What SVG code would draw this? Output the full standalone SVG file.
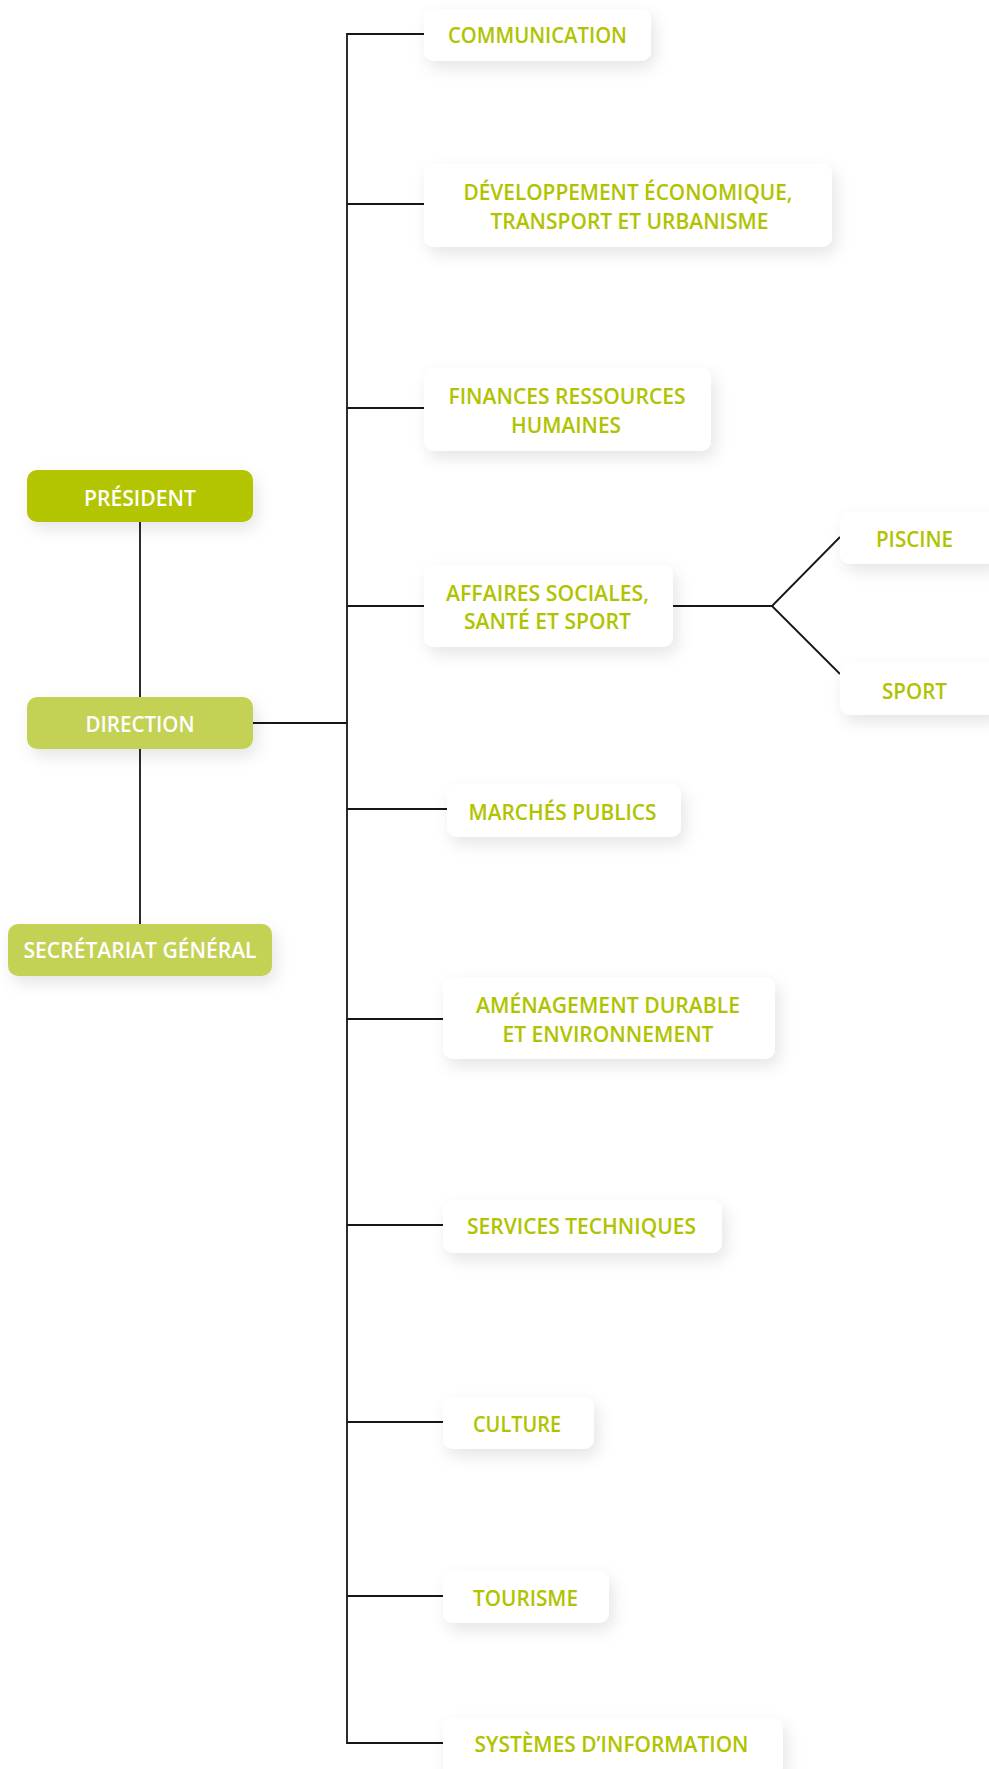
<svg xmlns="http://www.w3.org/2000/svg" width="989" height="1769" viewBox="0 0 989 1769">
<defs>
<filter id="sh" x="-20%" y="-40%" width="150%" height="200%">
<feDropShadow dx="4" dy="7" stdDeviation="8" flood-color="#000" flood-opacity="0.10"/>
</filter>
<style>
.box{fill:#ffffff;filter:url(#sh)}
.pres{fill:#b3c400;filter:url(#sh)}
.dir{fill:#c3d154;filter:url(#sh)}
.t{font-family:"Open Sans","Noto Sans","Liberation Sans",sans-serif;font-weight:600;font-size:22px;text-anchor:middle;fill:#b0c300}
.w{fill:#ffffff}
.ln{stroke:#161616;stroke-width:1.8;fill:none}
</style>
</defs>
<rect width="989" height="1769" fill="#ffffff"/>
<g id="connectors">
<line class="ln" x1="347" y1="33" x2="347" y2="1744"/>
<line class="ln" x1="347" y1="34" x2="424" y2="34"/>
<line class="ln" x1="347" y1="204" x2="424" y2="204"/>
<line class="ln" x1="347" y1="408" x2="424" y2="408"/>
<line class="ln" x1="347" y1="606" x2="424" y2="606"/>
<line class="ln" x1="347" y1="809" x2="447" y2="809"/>
<line class="ln" x1="347" y1="1019" x2="443" y2="1019"/>
<line class="ln" x1="347" y1="1225" x2="443" y2="1225"/>
<line class="ln" x1="347" y1="1422" x2="443" y2="1422"/>
<line class="ln" x1="347" y1="1596" x2="443" y2="1596"/>
<line class="ln" x1="347" y1="1743" x2="443" y2="1743"/>
<line class="ln" x1="253" y1="723" x2="347" y2="723"/>
<line class="ln" x1="140" y1="522" x2="140" y2="697"/>
<line class="ln" x1="140" y1="749" x2="140" y2="924"/>
<polyline class="ln" points="673,606 772,606 840,537"/>
<line class="ln" x1="772" y1="606" x2="840" y2="674"/>
</g>
<g id="president">
<rect class="pres" x="27" y="470" width="226" height="52" rx="10"/>
<text class="t w" x="140" y="506" textLength="112" lengthAdjust="spacingAndGlyphs">PRÉSIDENT</text>
</g>
<g id="direction">
<rect class="dir" x="27" y="697" width="226" height="52" rx="10"/>
<text class="t w" x="140" y="732" textLength="109" lengthAdjust="spacingAndGlyphs">DIRECTION</text>
</g>
<g id="secretariat">
<rect class="dir" x="8" y="924" width="264" height="52" rx="10"/>
<text class="t w" x="140" y="958" textLength="233" lengthAdjust="spacingAndGlyphs">SECRÉTARIAT GÉNÉRAL</text>
</g>
<g id="communication">
<rect class="box" x="424" y="9" width="227" height="52" rx="10"/>
<text class="t" x="537.5" y="43" textLength="179" lengthAdjust="spacingAndGlyphs">COMMUNICATION</text>
</g>
<g id="developpement">
<rect class="box" x="424" y="164" width="408" height="83" rx="10"/>
<text class="t" x="628" y="200" textLength="329" lengthAdjust="spacingAndGlyphs">DÉVELOPPEMENT ÉCONOMIQUE,</text>
<text class="t" x="629.5" y="229" textLength="278" lengthAdjust="spacingAndGlyphs">TRANSPORT ET URBANISME</text>
</g>
<g id="finances">
<rect class="box" x="424" y="368" width="287" height="83" rx="10"/>
<text class="t" x="567" y="404" textLength="237" lengthAdjust="spacingAndGlyphs">FINANCES RESSOURCES</text>
<text class="t" x="566" y="433" textLength="110" lengthAdjust="spacingAndGlyphs">HUMAINES</text>
</g>
<g id="affaires">
<rect class="box" x="424" y="565" width="249" height="82" rx="10"/>
<text class="t" x="547.5" y="601" textLength="203" lengthAdjust="spacingAndGlyphs">AFFAIRES SOCIALES,</text>
<text class="t" x="547.5" y="629" textLength="167" lengthAdjust="spacingAndGlyphs">SANTÉ ET SPORT</text>
</g>
<g id="piscine">
<rect class="box" x="840" y="512" width="160" height="52" rx="10"/>
<text class="t" x="914.5" y="547" textLength="77" lengthAdjust="spacingAndGlyphs">PISCINE</text>
</g>
<g id="sport">
<rect class="box" x="840" y="663" width="160" height="52" rx="10"/>
<text class="t" x="914.5" y="699" textLength="65" lengthAdjust="spacingAndGlyphs">SPORT</text>
</g>
<g id="marches">
<rect class="box" x="447" y="784" width="234" height="53" rx="10"/>
<text class="t" x="562.5" y="820" textLength="188" lengthAdjust="spacingAndGlyphs">MARCHÉS PUBLICS</text>
</g>
<g id="amenagement">
<rect class="box" x="443" y="977" width="332" height="82" rx="10"/>
<text class="t" x="608" y="1013" textLength="264" lengthAdjust="spacingAndGlyphs">AMÉNAGEMENT DURABLE</text>
<text class="t" x="608" y="1042" textLength="211" lengthAdjust="spacingAndGlyphs">ET ENVIRONNEMENT</text>
</g>
<g id="services">
<rect class="box" x="443" y="1200" width="279" height="53" rx="10"/>
<text class="t" x="581.5" y="1234" textLength="229" lengthAdjust="spacingAndGlyphs">SERVICES TECHNIQUES</text>
</g>
<g id="culture">
<rect class="box" x="443" y="1397" width="151" height="52" rx="10"/>
<text class="t" x="517" y="1432" textLength="88" lengthAdjust="spacingAndGlyphs">CULTURE</text>
</g>
<g id="tourisme">
<rect class="box" x="443" y="1571" width="166" height="52" rx="10"/>
<text class="t" x="525.5" y="1606" textLength="105" lengthAdjust="spacingAndGlyphs">TOURISME</text>
</g>
<g id="systemes">
<rect class="box" x="443" y="1718" width="340" height="58" rx="10"/>
<text class="t" x="611.5" y="1752" textLength="274" lengthAdjust="spacingAndGlyphs">SYSTÈMES D’INFORMATION</text>
</g>
</svg>
